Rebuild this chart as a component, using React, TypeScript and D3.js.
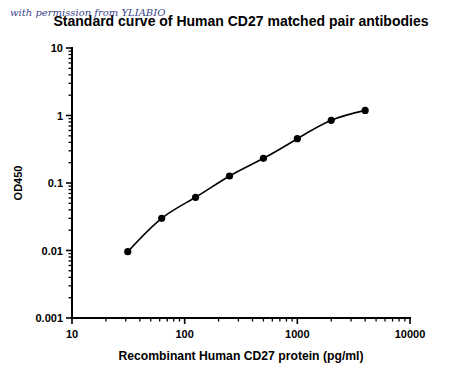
import React from "react";
import * as d3 from "d3";

const concentrations = [31.25, 62.5, 125, 250, 500, 1000, 2000, 4000];
const odValues = [0.0096, 0.030, 0.0614, 0.127, 0.232, 0.453, 0.849, 1.19];
const xTickValues = [10, 100, 1000, 10000];
const yTickValues = [0.001, 0.01, 0.1, 1, 10];
const xTickLabels = ["10", "100", "1000", "10000"];
const yTickLabels = ["0.001", "0.01", "0.1", "1", "10"];
const titleText = "Standard curve of Human CD27 matched pair antibodies";
const xLabel = "Recombinant Human CD27 protein (pg/ml)";
const yLabel = "OD450";
const watermark = "with permission from YLIABIO";

export default function App() {
  const W = 450, H = 375;
  const left = 72, right = 410, top = 48, bottom = 318;
  const x = d3.scaleLog().domain([10, 10000]).range([left, right]);
  const y = d3.scaleLog().domain([0.001, 10]).range([bottom, top]);

  const minorX: number[] = [];
  for (let d = 10; d < 10000; d *= 10) for (let k = 2; k <= 9; k++) minorX.push(d * k);
  const minorY: number[] = [];
  for (let d = 0.001; d < 9; d *= 10) for (let k = 2; k <= 9; k++) minorY.push(+(d * k).toPrecision(3));

  const pts = concentrations.map((c, i) => [x(c), y(odValues[i])] as [number, number]);
  const line = d3.line().curve(d3.curveNatural)(pts) || "";
  const font = "Arial, 'Liberation Sans', sans-serif";

  return (
    <svg width={W} height={H} style={{ position: "absolute", left: 0, top: 0, background: "#fff" }}>
      <rect width={W} height={H} fill="#fff" />
      <text x={241} y={26} textAnchor="middle" fontFamily={font} fontWeight="bold" fontSize={14} fill="#000">{titleText}</text>
      <text x={10} y={16} fontFamily="'DejaVu Serif', serif" fontStyle="italic" fontSize={10} fill="#1f2f80" opacity={0.9}>{watermark}</text>

      <line x1={left} x2={left} y1={top - 1} y2={bottom + 1} stroke="#000" strokeWidth={2} />
      <line x1={left - 1} x2={right + 1} y1={bottom} y2={bottom} stroke="#000" strokeWidth={2} />

      {yTickValues.map((v) => (
        <line key={"ym" + v} x1={left - 6} x2={left} y1={y(v)} y2={y(v)} stroke="#000" strokeWidth={1.6} />
      ))}
      {minorY.map((v) => (
        <line key={"yn" + v} x1={left - 3.5} x2={left} y1={y(v)} y2={y(v)} stroke="#000" strokeWidth={1.3} />
      ))}
      {xTickValues.map((v) => (
        <line key={"xm" + v} x1={x(v)} x2={x(v)} y1={bottom} y2={bottom + 6} stroke="#000" strokeWidth={1.6} />
      ))}
      {minorX.map((v) => (
        <line key={"xn" + v} x1={x(v)} x2={x(v)} y1={bottom} y2={bottom + 3.5} stroke="#000" strokeWidth={1.3} />
      ))}

      {yTickValues.map((v, i) => (
        <text key={"yl" + v} x={left - 9} y={y(v) + 4} textAnchor="end" fontFamily={font} fontWeight="bold" fontSize={11} fill="#000">{yTickLabels[i]}</text>
      ))}
      {xTickValues.map((v, i) => (
        <text key={"xl" + v} x={x(v)} y={bottom + 20} textAnchor="middle" fontFamily={font} fontWeight="bold" fontSize={11} fill="#000">{xTickLabels[i]}</text>
      ))}

      <text x={241} y={360} textAnchor="middle" fontFamily={font} fontWeight="bold" fontSize={12.2} fill="#000">{xLabel}</text>
      <text transform={`translate(22,${(top + bottom) / 2}) rotate(-90)`} textAnchor="middle" fontFamily={font} fontWeight="bold" fontSize={11} fill="#000">{yLabel}</text>

      <path d={line} fill="none" stroke="#000" strokeWidth={1.6} />
      {pts.map((p, i) => (
        <circle key={i} cx={p[0]} cy={p[1]} r={3.6} fill="#000" />
      ))}
    </svg>
  );
}
